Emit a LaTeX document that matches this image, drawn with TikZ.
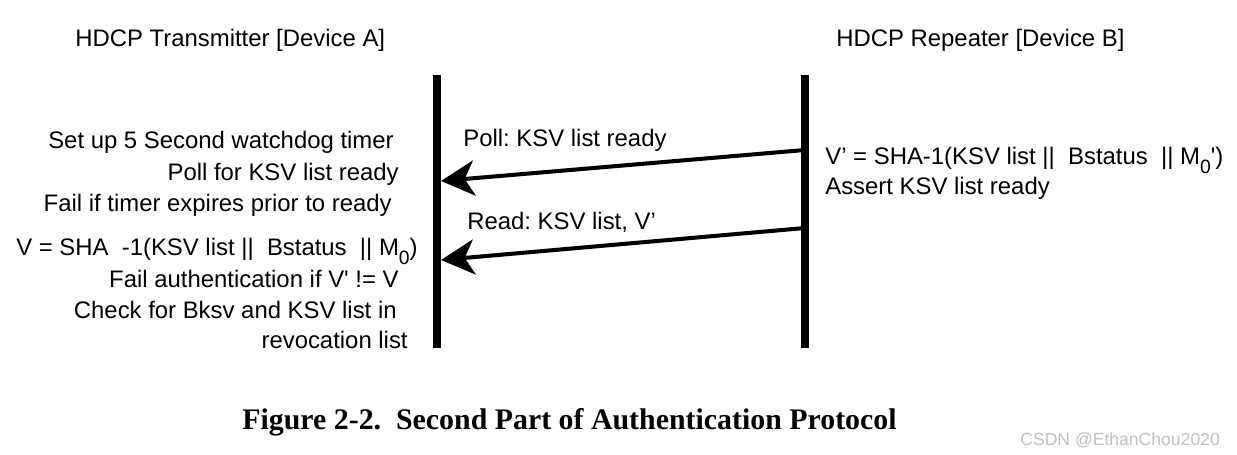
\documentclass[tikz,border=0pt]{standalone}
\usepackage{fontspec}
\setmainfont{Liberation Sans}
\newfontfamily\capfont{Liberation Serif}
\usetikzlibrary{arrows.meta}
\frenchspacing

\newcommand{\subzero}{\raisebox{-0.35em}{\fontsize{11}{11}\selectfont 0}}

\begin{document}
\begin{tikzpicture}[x=0.02cm,y=-0.02cm,
  txt/.style={inner sep=0pt,font=\fontsize{13.6}{16}\selectfont},
  lifeline/.style={line width=4.5pt},
  msg/.style={line width=2.3pt,-{Stealth[length=19pt,width=20pt,inset=5.5pt]}}]
\useasboundingbox (0,0) rectangle (1237,455);

% Headers
\node[txt,anchor=base west] (hdrA) at (75,47) {HDCP Transmitter [Device A]};
\node[txt,anchor=base west] (hdrB) at (836,47) {HDCP Repeater [Device B]};

% Lifelines
\coordinate (aTop) at (437,75);
\coordinate (aBot) at (437,348);
\coordinate (bTop) at (805,75);
\coordinate (bBot) at (805,348);
\draw[lifeline] (aTop) -- (aBot);
\draw[lifeline] (bTop) -- (bBot);

% Messages
\coordinate (pollFrom) at (805,150);
\coordinate (pollTo) at (441,181);
\coordinate (readFrom) at (805,228);
\coordinate (readTo) at (441,260);
\draw[msg] (pollFrom) -- (pollTo);
\draw[msg] (readFrom) -- (readTo);
\node[txt,anchor=base west] (pollLbl) at (463,147) {Poll: KSV list ready};
\node[txt,anchor=base west] (readLbl) at (467,230) {Read: KSV list, V’};

% Transmitter side
\node[txt,anchor=base east] (tx1) at (394,149) {Set up 5 Second watchdog timer};
\node[txt,anchor=base east] (tx2) at (399,180.5) {Poll for KSV list ready};
\node[txt,anchor=base east] (tx3) at (392,212) {Fail if timer expires prior to ready};
\node[txt,anchor=base east] (tx4) at (418,256) {V = SHA\ \ -1(KSV list ||\ \ Bstatus\ \ || M\subzero)};
\node[txt,anchor=base east] (tx5) at (399,287.5) {Fail authentication if V\textquotesingle{} != V};
\node[txt,anchor=base east] (tx6) at (397,319) {Check for Bksv and KSV list in};
\node[txt,anchor=base east] (tx7) at (408,349) {revocation list};

% Repeater side
\node[txt,anchor=base west] (rx1) at (825,165) {V’ = SHA-1(KSV list ||\ \ Bstatus\ \ || M\subzero\textquotesingle)};
\node[txt,anchor=base west] (rx2) at (825,195) {Assert KSV list ready};

% Caption
\node[anchor=base west,inner sep=0pt,font=\capfont\bfseries\fontsize{17}{20}\selectfont] (cap) at (242,430) {Figure 2-2.\ \ Second Part of Authentication Protocol};
\node[anchor=base west,inner sep=0pt,font=\fontsize{10}{12}\selectfont,text=gray!50] (mark) at (1020,446) {CSDN @EthanChou2020};
\end{tikzpicture}
\end{document}
